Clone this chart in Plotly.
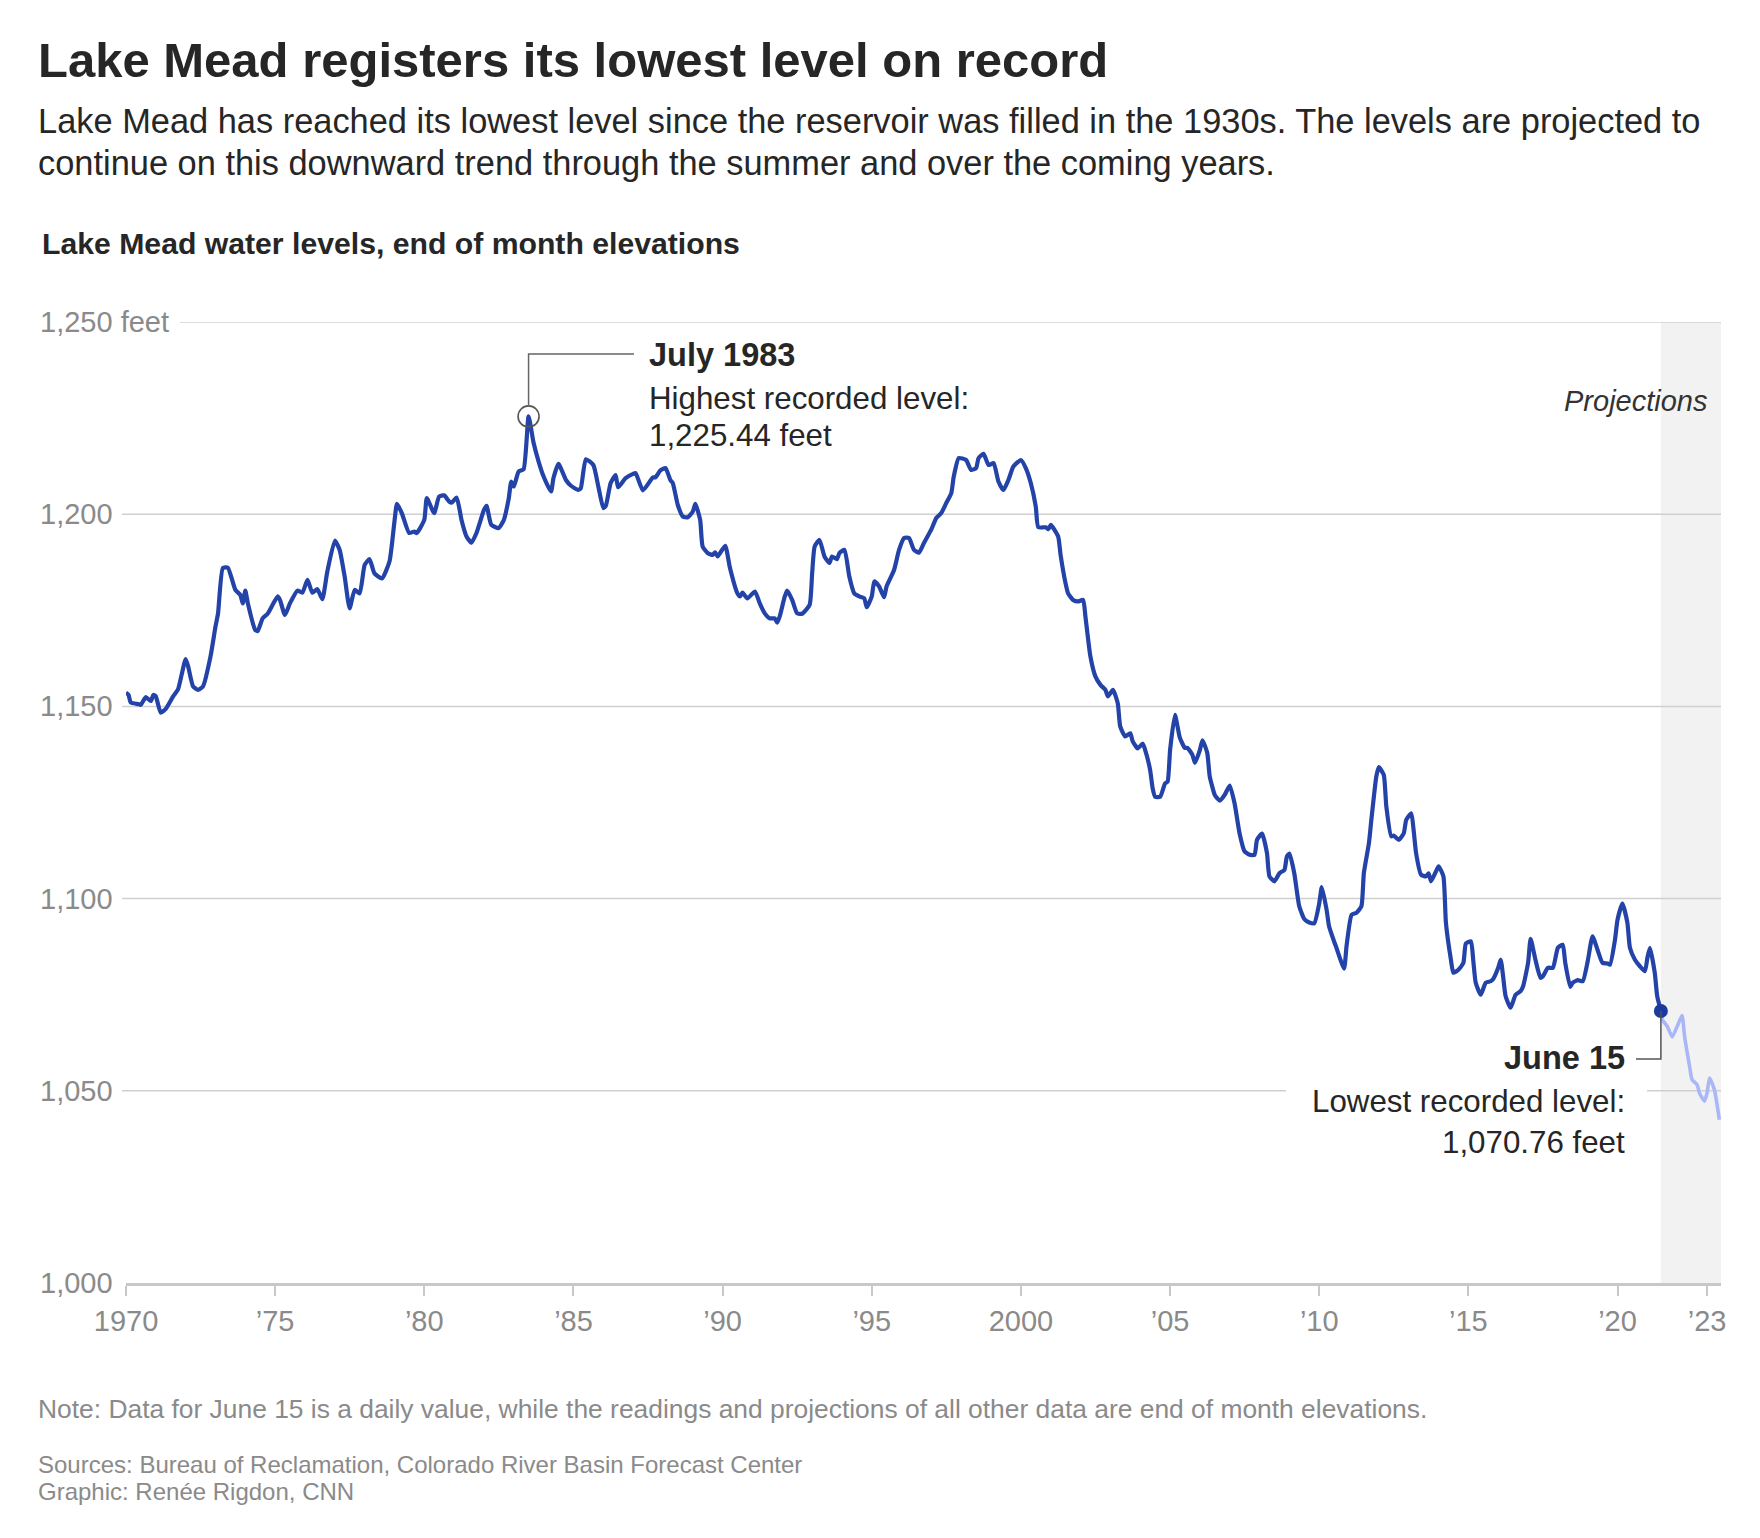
import plotly.graph_objects as go
import pandas as pd

# ---------------- data ----------------
months = [
    "1970-01", "1970-02", "1970-03", "1970-06", "1970-07", "1970-09", "1970-11", "1970-12",
    "1971-01", "1971-03", "1971-05", "1971-08", "1971-10",
    "1972-01", "1972-02", "1972-04", "1972-06", "1972-08", "1972-11",
    "1973-01", "1973-02", "1973-04", "1973-06", "1973-09", "1973-11", "1973-12",
    "1974-01", "1974-02", "1974-05", "1974-06", "1974-08", "1974-10",
    "1975-02", "1975-03", "1975-05", "1975-07", "1975-10", "1975-12",
    "1976-02", "1976-04", "1976-06", "1976-08", "1976-10",
    "1977-01", "1977-03", "1977-05", "1977-07", "1977-09", "1977-11",
    "1978-01", "1978-03", "1978-05", "1978-08", "1978-11",
    "1979-01", "1979-02", "1979-04", "1979-07", "1979-09", "1979-10",
    "1980-01", "1980-02", "1980-05", "1980-07", "1980-09", "1980-11", "1980-12",
    "1981-02", "1981-04", "1981-06", "1981-08", "1981-10",
    "1982-01", "1982-02", "1982-04", "1982-07", "1982-09", "1982-11", "1982-12",
    "1983-01", "1983-03", "1983-05", "1983-07", "1983-09", "1983-11",
    "1984-01", "1984-04", "1984-05", "1984-07", "1984-10", "1984-12",
    "1985-03", "1985-04", "1985-06", "1985-09", "1985-11",
    "1986-01", "1986-02", "1986-04", "1986-06", "1986-07", "1986-10",
    "1987-01", "1987-02", "1987-05", "1987-09", "1987-10", "1987-12",
    "1988-02", "1988-04", "1988-05", "1988-07", "1988-09", "1988-11",
    "1989-01", "1989-02", "1989-04", "1989-05", "1989-07", "1989-09", "1989-10", "1989-11",
    "1990-02", "1990-04", "1990-07", "1990-08", "1990-09", "1990-11",
    "1991-02", "1991-04", "1991-06", "1991-08", "1991-10", "1991-11", "1991-12",
    "1992-02", "1992-03", "1992-05", "1992-07", "1992-09", "1992-12",
    "1993-01", "1993-02", "1993-04", "1993-06", "1993-08", "1993-09", "1993-11", "1993-12",
    "1994-02", "1994-04", "1994-06", "1994-08", "1994-10", "1994-11",
    "1995-01", "1995-02", "1995-04", "1995-06", "1995-07", "1995-10", "1995-12",
    "1996-02", "1996-04", "1996-06", "1996-08", "1996-10",
    "1997-01", "1997-03", "1997-05", "1997-07", "1997-09", "1997-10", "1997-12",
    "1998-03", "1998-05", "1998-07", "1998-08", "1998-10", "1998-12",
    "1999-02", "1999-04", "1999-06", "1999-08", "1999-10",
    "2000-01", "2000-03", "2000-05", "2000-07", "2000-08", "2000-11", "2000-12",
    "2001-01", "2001-04", "2001-05", "2001-07", "2001-08", "2001-10", "2001-12",
    "2002-02", "2002-03", "2002-05", "2002-07", "2002-09", "2002-11", "2002-12",
    "2003-02", "2003-04", "2003-05", "2003-07", "2003-09", "2003-10", "2003-12",
    "2004-02", "2004-03", "2004-05", "2004-06", "2004-07", "2004-09", "2004-11", "2004-12",
    "2005-01", "2005-03", "2005-05", "2005-07", "2005-08", "2005-10", "2005-11",
    "2006-01", "2006-02", "2006-04", "2006-05", "2006-07", "2006-08", "2006-09", "2006-11",
    "2007-01", "2007-03", "2007-05", "2007-07", "2007-09", "2007-11", "2007-12",
    "2008-02", "2008-04", "2008-05", "2008-07", "2008-09", "2008-11", "2008-12",
    "2009-01", "2009-03", "2009-05", "2009-07", "2009-09", "2009-11",
    "2010-01", "2010-02", "2010-04", "2010-05", "2010-07", "2010-08", "2010-11", "2010-12",
    "2011-02", "2011-04", "2011-06", "2011-07", "2011-09", "2011-10", "2011-12",
    "2012-01", "2012-03", "2012-04", "2012-06", "2012-07", "2012-09", "2012-11", "2012-12",
    "2013-02", "2013-03", "2013-04", "2013-06", "2013-08", "2013-09", "2013-10", "2013-12",
    "2014-01", "2014-03", "2014-04", "2014-06", "2014-07", "2014-09", "2014-11", "2014-12",
    "2015-02", "2015-03", "2015-04", "2015-06", "2015-08", "2015-10", "2015-11",
    "2016-01", "2016-02", "2016-03", "2016-04", "2016-06", "2016-08", "2016-10", "2016-11",
    "2017-01", "2017-02", "2017-04", "2017-06", "2017-07", "2017-09", "2017-11",
    "2018-01", "2018-03", "2018-04", "2018-06", "2018-07", "2018-09", "2018-11",
    "2019-01", "2019-03", "2019-05", "2019-07", "2019-09", "2019-10", "2019-12",
    "2020-01", "2020-03", "2020-05", "2020-06", "2020-08", "2020-10", "2020-12",
    "2021-01", "2021-02", "2021-04", "2021-05", "2021-06-15",
]
levels = [
    1153.6, 1153.0, 1151.0, 1150.6, 1150.4, 1152.4, 1151.4, 1153.0,
    1152.6, 1148.4, 1149.3, 1152.6, 1154.5,
    1162.3, 1160.4, 1155.2, 1154.3, 1155.2, 1163.0,
    1170.8, 1174.2, 1186.0, 1186.1, 1180.3, 1179.0, 1176.8,
    1180.1, 1176.8, 1169.9, 1169.6, 1172.9, 1174.1,
    1178.6, 1177.7, 1173.8, 1176.8, 1180.1, 1179.6,
    1182.9, 1179.6, 1180.5, 1177.9, 1185.1,
    1193.1, 1190.7, 1183.8, 1175.5, 1180.3, 1179.4,
    1186.8, 1188.3, 1184.6, 1183.3, 1187.7,
    1198.1, 1202.7, 1200.3, 1195.1, 1195.5, 1195.1,
    1198.5, 1204.2, 1200.3, 1204.6, 1204.9, 1203.3, 1203.0,
    1204.3, 1198.5, 1194.2, 1192.6, 1195.1,
    1201.1, 1202.2, 1197.2, 1196.4, 1198.5, 1204.2, 1208.5,
    1207.2, 1211.1, 1211.7, 1225.44, 1218.5, 1213.7,
    1209.8, 1205.9, 1209.4, 1213.1, 1208.9, 1207.4,
    1206.3, 1206.8, 1214.3, 1212.8, 1207.2,
    1201.6, 1202.2, 1208.1, 1210.2, 1207.0, 1209.4,
    1210.5, 1210.7, 1206.2, 1209.6, 1209.6, 1211.4,
    1212.0, 1208.9, 1208.1, 1202.4, 1199.4, 1199.2,
    1200.7, 1202.7, 1198.5, 1191.6, 1189.9, 1189.4, 1190.1, 1189.0,
    1191.8, 1186.0, 1179.4, 1178.6, 1179.6, 1178.1,
    1179.9, 1176.8, 1174.2, 1172.9, 1172.9, 1171.8, 1173.4,
    1178.6, 1180.1, 1177.7, 1174.2, 1174.1, 1176.4,
    1184.6, 1191.6, 1193.3, 1189.0, 1187.3, 1189.0, 1188.3, 1189.9,
    1190.7, 1183.8, 1179.4, 1178.6, 1178.1, 1175.8,
    1178.6, 1182.5, 1181.2, 1178.4, 1181.2, 1185.5, 1190.7,
    1193.8, 1193.8, 1190.7, 1190.0, 1192.5,
    1196.1, 1199.0, 1200.3, 1202.9, 1205.5, 1209.8, 1214.6,
    1214.1, 1211.5, 1212.0, 1214.6, 1215.7, 1212.8,
    1213.3, 1208.5, 1206.3, 1208.9, 1212.4,
    1214.1, 1212.0, 1208.1, 1202.0, 1196.6, 1196.6, 1196.1,
    1197.2, 1194.2, 1189.4, 1182.0, 1179.4, 1177.7, 1177.3,
    1177.7, 1173.4, 1163.0, 1157.8, 1155.6, 1154.3, 1152.6,
    1154.3, 1150.8, 1144.8, 1142.2, 1143.0, 1140.9, 1139.1,
    1140.3, 1138.7, 1133.5, 1128.7, 1126.5, 1126.5, 1130.0, 1130.4,
    1138.7, 1147.8, 1141.8, 1139.2, 1139.2, 1137.4, 1135.3,
    1138.7, 1141.2, 1137.9, 1131.8, 1127.0, 1126.1, 1125.5, 1127.0,
    1129.4, 1124.8, 1117.0, 1112.3, 1111.4, 1111.4, 1115.3,
    1116.9, 1111.8, 1105.8, 1104.5, 1106.6, 1107.5, 1111.0,
    1111.7, 1106.6, 1098.0, 1094.7, 1093.8, 1093.6,
    1098.8, 1103.0, 1097.1, 1092.8, 1088.9, 1087.1, 1081.8, 1087.6,
    1095.8, 1096.3, 1098.0, 1106.6, 1114.4, 1120.5, 1131.8,
    1134.2, 1132.2, 1124.0, 1116.2, 1116.4, 1115.3, 1117.0, 1120.5,
    1122.2, 1117.9, 1111.8, 1106.2, 1105.8, 1106.6, 1104.5, 1107.1,
    1108.4, 1105.8, 1093.7, 1084.1, 1080.7, 1081.5, 1083.3, 1088.3,
    1088.9, 1084.1, 1078.1, 1075.0, 1078.1, 1078.5, 1079.1,
    1082.0, 1084.1, 1079.8, 1074.6, 1071.6, 1075.0, 1075.9, 1077.2,
    1083.3, 1089.5, 1084.1, 1079.4, 1079.8, 1082.0, 1082.0,
    1087.2, 1088.0, 1083.3, 1077.0, 1078.1, 1078.8, 1078.5,
    1083.7, 1090.2, 1086.7, 1083.3, 1083.1, 1082.8, 1089.3,
    1094.5, 1098.7, 1093.7, 1087.2, 1084.1, 1082.4, 1081.1,
    1084.6, 1087.2, 1080.7, 1074.6, 1070.76,
]

proj_months = [
    "2021-06-15", "2021-07", "2021-09", "2021-11", "2022-01", "2022-03", "2022-04",
    "2022-06", "2022-07", "2022-09", "2022-10", "2022-12", "2023-01", "2023-02",
    "2023-04", "2023-06",
]
proj_levels = [
    1070.76, 1068.5, 1066.8, 1064.0, 1066.8, 1069.6, 1064.2,
    1056.4, 1052.9, 1051.6, 1049.4, 1047.3, 1049.4, 1053.3,
    1050.3, 1042.5,
]

x_tick_dates = ["1970-01-01", "1975-01-01", "1980-01-01", "1985-01-01", "1990-01-01",
                "1995-01-01", "2000-01-01", "2005-01-01", "2010-01-01", "2015-01-01",
                "2020-01-01", "2023-01-01"]
x_tick_text = ["1970", "\u201975", "\u201980", "\u201985", "\u201990", "\u201995", "2000",
               "\u201905", "\u201910", "\u201915", "\u201920", "\u201923"]
y_tick_vals = [1000, 1050, 1100, 1150, 1200, 1250]
y_tick_text = ["1,000", "1,050", "1,100", "1,150", "1,200", "1,250 feet"]

peak_date, peak_value = "1983-07", 1225.44
low_date, low_value = "2021-06-15", 1070.76

# ---------------- layout geometry ----------------
W, H = 1760, 1538
L, R, T, B = 126, 1721, 322, 1283
X_START, X_END = "1970-01-01", "2023-06-21"
Y_MIN, Y_MAX = 1000, 1250
FONT = "Liberation Sans, Arial, sans-serif"
GRAY = "#8a8a8a"
DARK = "#262626"
GRID = "#d0d0d0"


def px(x):
    return (x - L) / (R - L)


def py(y):
    return (B - y) / (B - T)


def date_paper(d):
    t0, t1 = pd.Timestamp(X_START), pd.Timestamp(X_END)
    return (pd.Timestamp(d) - t0) / (t1 - t0)


def val_pixel(v):
    return B - (v - Y_MIN) / (Y_MAX - Y_MIN) * (B - T)


fig = go.Figure()

fig.add_trace(go.Scatter(
    x=months, y=levels, mode="lines",
    line=dict(color="#2343a8", width=4.2, shape="spline", smoothing=0.5),
    hoverinfo="skip", showlegend=False))

fig.add_trace(go.Scatter(
    x=proj_months, y=proj_levels, mode="lines",
    line=dict(color="#a9b7f7", width=3.6, shape="spline", smoothing=0.5),
    hoverinfo="skip", showlegend=False))

fig.add_trace(go.Scatter(
    x=[peak_date], y=[peak_value], mode="markers",
    marker=dict(symbol="circle-open", size=21, color="#555555", line=dict(width=1.6)),
    hoverinfo="skip", showlegend=False))

fig.add_trace(go.Scatter(
    x=[low_date], y=[low_value], mode="markers",
    marker=dict(symbol="circle", size=14, color="#1c3a9e"),
    hoverinfo="skip", showlegend=False))

shapes = []
# projection band
shapes.append(dict(type="rect", xref="x", yref="paper", x0=low_date, x1=X_END, y0=0, y1=1,
                   fillcolor="#f2f2f2", line=dict(width=0), layer="below"))
# gridlines
for v in y_tick_vals[1:]:
    if v == 1250:
        segs = [(px(180), 1)]
    elif v == 1050:
        segs = [(px(122), px(1286)), (px(1647), 1)]
    else:
        segs = [(px(122), 1)]
    for a, b in segs:
        shapes.append(dict(type="line", xref="paper", yref="y", x0=a, x1=b, y0=v, y1=v,
                           line=dict(color=GRID, width=1.5), layer="below"))

# leader lines
pkx = date_paper(peak_date)
pk_top = val_pixel(peak_value) - 10.5
shapes.append(dict(type="path", xref="paper", yref="paper",
                   path=f"M {pkx} {py(pk_top)} L {pkx} {py(354)} L {px(634)} {py(354)}",
                   line=dict(color="#666666", width=1.5)))
lwx = date_paper(low_date)
lw_y = val_pixel(low_value)
shapes.append(dict(type="path", xref="paper", yref="paper",
                   path=f"M {lwx} {py(lw_y)} L {lwx} {py(1059)} L {px(1636)} {py(1059)}",
                   line=dict(color="#555555", width=1.5)))

annotations = []


def note(text, x, y, size, color=DARK, anchor="left"):
    annotations.append(dict(text=text, x=px(x), y=py(y), xref="paper", yref="paper",
                            xanchor=anchor, yanchor="middle", showarrow=False,
                            font=dict(family=FONT, size=size, color=color)))


note("<b>Lake Mead registers its lowest level on record</b>", 36, 60, 49)
note("Lake Mead has reached its lowest level since the reservoir was filled in the 1930s. "
     "The levels are projected to", 36, 121, 34.4)
note("continue on this downward trend through the summer and over the coming years.", 36, 163, 34.4)
note("<b>Lake Mead water levels, end of month elevations</b>", 40, 243, 30.2)
note("<i>Projections</i>", 1709, 401, 29, color="#333333", anchor="right")
note("<b>July 1983</b>", 647, 355, 32.5)
note("Highest recorded level:", 647, 398, 31.3)
note("1,225.44 feet", 647, 435, 31.3)
note("<b>June 15</b>", 1627, 1058, 32.5, anchor="right")
note("Lowest recorded level:", 1627, 1101, 31.3, anchor="right")
note("1,070.76 feet", 1627, 1142, 31.3, anchor="right")
note("Note: Data for June 15 is a daily value, while the readings and projections of all "
     "other data are end of month elevations.", 36, 1409, 26.4, color=GRAY)
note("Sources: Bureau of Reclamation, Colorado River Basin Forecast Center", 36, 1464, 24, color=GRAY)
note("Graphic: Ren\u00e9e Rigdon, CNN", 36, 1492, 24, color=GRAY)

for v, t in zip(y_tick_vals, y_tick_text):
    annotations.append(dict(text=t, x=px(38), y=v, xref="paper", yref="y",
                            xanchor="left", yanchor="middle", showarrow=False,
                            font=dict(family=FONT, size=29, color=GRAY)))

fig.update_layout(
    width=W, height=H,
    margin=dict(l=L, r=W - R, t=T, b=H - B, pad=0),
    paper_bgcolor="white", plot_bgcolor="white",
    showlegend=False,
    shapes=shapes, annotations=annotations,
    xaxis=dict(type="date", range=[X_START, X_END], tickvals=x_tick_dates, ticktext=x_tick_text,
               showgrid=False, zeroline=False, showline=True, linecolor="#c8c8c8", linewidth=2.5,
               ticks="outside", ticklen=10, tickwidth=1.5, tickcolor="#c8c8c8",
               tickfont=dict(family=FONT, size=29, color=GRAY), ticklabelstandoff=0,
               fixedrange=True),
    yaxis=dict(range=[Y_MIN, Y_MAX], showgrid=False, zeroline=False, showticklabels=False,
               showline=False, ticks="", fixedrange=True),
    font=dict(family=FONT),
)

fig.write_html("out.html", config={"displayModeBar": False},
               post_script="document.body.style.margin='0';document.body.style.padding='0';")
